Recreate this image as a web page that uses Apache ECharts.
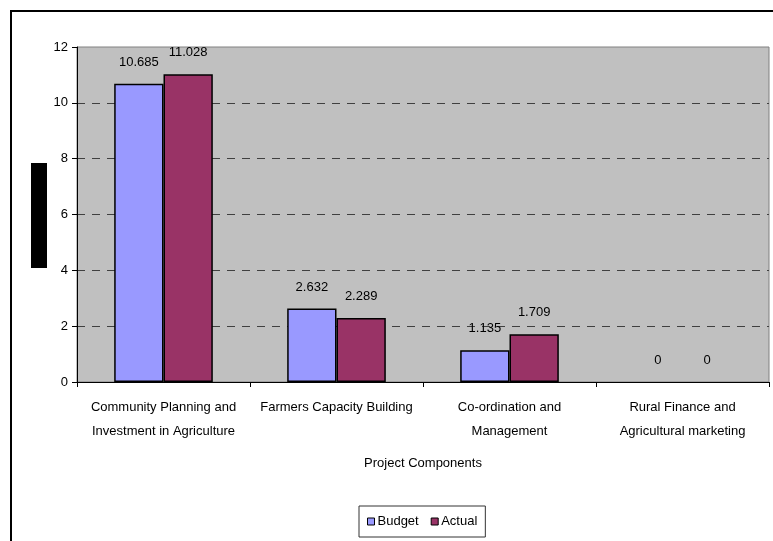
<!DOCTYPE html>
<html>
<head>
<meta charset="utf-8">
<script src="https://cdn.jsdelivr.net/npm/echarts@6/dist/echarts.min.js"></script>
<style>
  html, body { margin: 0; padding: 0; background: #ffffff; }
  #chart { width: 773px; height: 541px; }
</style>
</head>
<body>
<div id="chart"></div>
<script>
// Project component spending (budget vs actual)
const categories = [
  'Community Planning and\nInvestment in Agriculture',
  'Farmers Capacity Building',
  'Co-ordination and\nManagement',
  'Rural Finance and\nAgricultural marketing'
];
const budgetValues = [10.685, 2.632, 1.135, 0];
const actualValues = [11.028, 2.289, 1.709, 0];
const yTicks = { min: 0, max: 12, interval: 2 };

const FONT = '"Liberation Sans", Arial, sans-serif';

const chart = echarts.init(document.getElementById('chart'), null, { renderer: 'canvas' });

function barSeries(name, data, color) {
  return {
    name: name,
    type: 'bar',
    // zero-height bars get no outline so nothing is drawn on the axis
    data: data.map(v => v === 0 ? { value: v, itemStyle: { borderWidth: 0 } } : v),
    barGap: '0%',
    barCategoryGap: '43%',
    itemStyle: { color: color, borderColor: '#000000', borderWidth: 1.5 },
    label: {
      show: true,
      position: 'top',
      distance: 15,
      color: '#000000',
      fontFamily: FONT,
      fontSize: 13,
      formatter: p => String(p.value)
    }
  };
}

chart.setOption({
  animation: false,
  backgroundColor: '#ffffff',
  textStyle: { fontFamily: FONT },
  grid: {
    left: 77, right: 4, top: 47, bottom: 159,
    show: true,
    backgroundColor: '#C0C0C0',
    borderColor: '#808080',
    borderWidth: 1
  },
  legend: {
    left: 359, top: 506,
    data: ['Budget', 'Actual'],
    icon: 'rect',
    itemWidth: 7, itemHeight: 7,
    itemGap: 12,
    padding: [9, 8],
    borderColor: '#333333', borderWidth: 1,
    itemStyle: { borderColor: '#000000', borderWidth: 1 },
    textStyle: { color: '#000000', fontSize: 13, fontFamily: FONT, padding: [0, 0, 0, -2] }
  },
  xAxis: {
    type: 'category',
    data: categories,
    name: 'Project Components',
    nameLocation: 'middle',
    nameGap: 75,
    nameTextStyle: { color: '#000000', fontSize: 13, fontFamily: FONT },
    axisLine: { lineStyle: { color: '#000000', width: 1 } },
    axisTick: { show: true, interval: 0, length: 5, lineStyle: { color: '#000000' } },
    axisLabel: { interval: 0, color: '#000000', fontSize: 13, fontFamily: FONT, lineHeight: 24, margin: 13 }
  },
  yAxis: {
    type: 'value',
    min: yTicks.min, max: yTicks.max, interval: yTicks.interval,
    axisLine: { show: true, lineStyle: { color: '#000000', width: 1 } },
    axisTick: { show: true, length: 5, lineStyle: { color: '#000000' } },
    axisLabel: { color: '#000000', fontSize: 13, fontFamily: FONT, margin: 9 },
    splitLine: {
      show: true,
      showMinLine: false,
      showMaxLine: false,
      lineStyle: { color: '#404040', type: [8, 7], width: 1 }
    }
  },
  series: [
    barSeries('Budget', budgetValues, '#9999FF'),
    barSeries('Actual', actualValues, '#993366')
  ],
  graphic: [
    { type: 'line', shape: { x1: 10, y1: 11, x2: 773, y2: 11 }, style: { stroke: '#000000', lineWidth: 2 } },
    { type: 'line', shape: { x1: 11, y1: 10, x2: 11, y2: 541 }, style: { stroke: '#000000', lineWidth: 2 } },
    { type: 'rect', shape: { x: 31, y: 163, width: 16, height: 105 }, style: { fill: '#000000' } }
  ]
});
</script>
</body>
</html>
